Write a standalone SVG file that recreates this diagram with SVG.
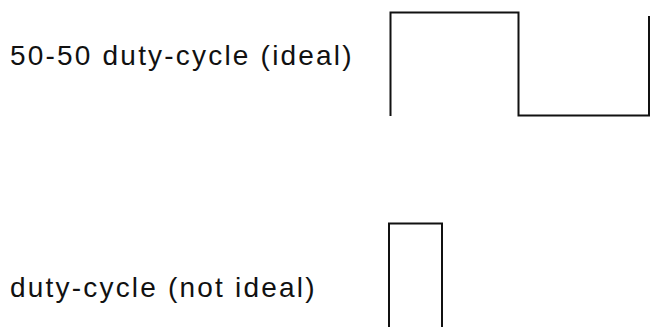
<svg xmlns="http://www.w3.org/2000/svg" width="650" height="327" viewBox="0 0 650 327">
  <style>
    .label { font-family: "Liberation Sans", Arial, sans-serif; font-size: 28px; letter-spacing: 2.2px; fill: #111; }
    .wave { fill: none; stroke: #111; stroke-width: 2; }
  </style>
  <rect width="650" height="327" fill="#ffffff"/>
  <g id="ideal">
    <text class="label" x="10" y="65">50-50 duty-cycle (ideal)</text>
    <path class="wave" d="M390.5,116 V12.5 H518.5 V115.5 H649 V16"/>
  </g>
  <g id="not-ideal">
    <text class="label" x="10" y="297">duty-cycle (not ideal)</text>
    <path class="wave" d="M389,327 V223.5 H442 V327"/>
  </g>
</svg>
